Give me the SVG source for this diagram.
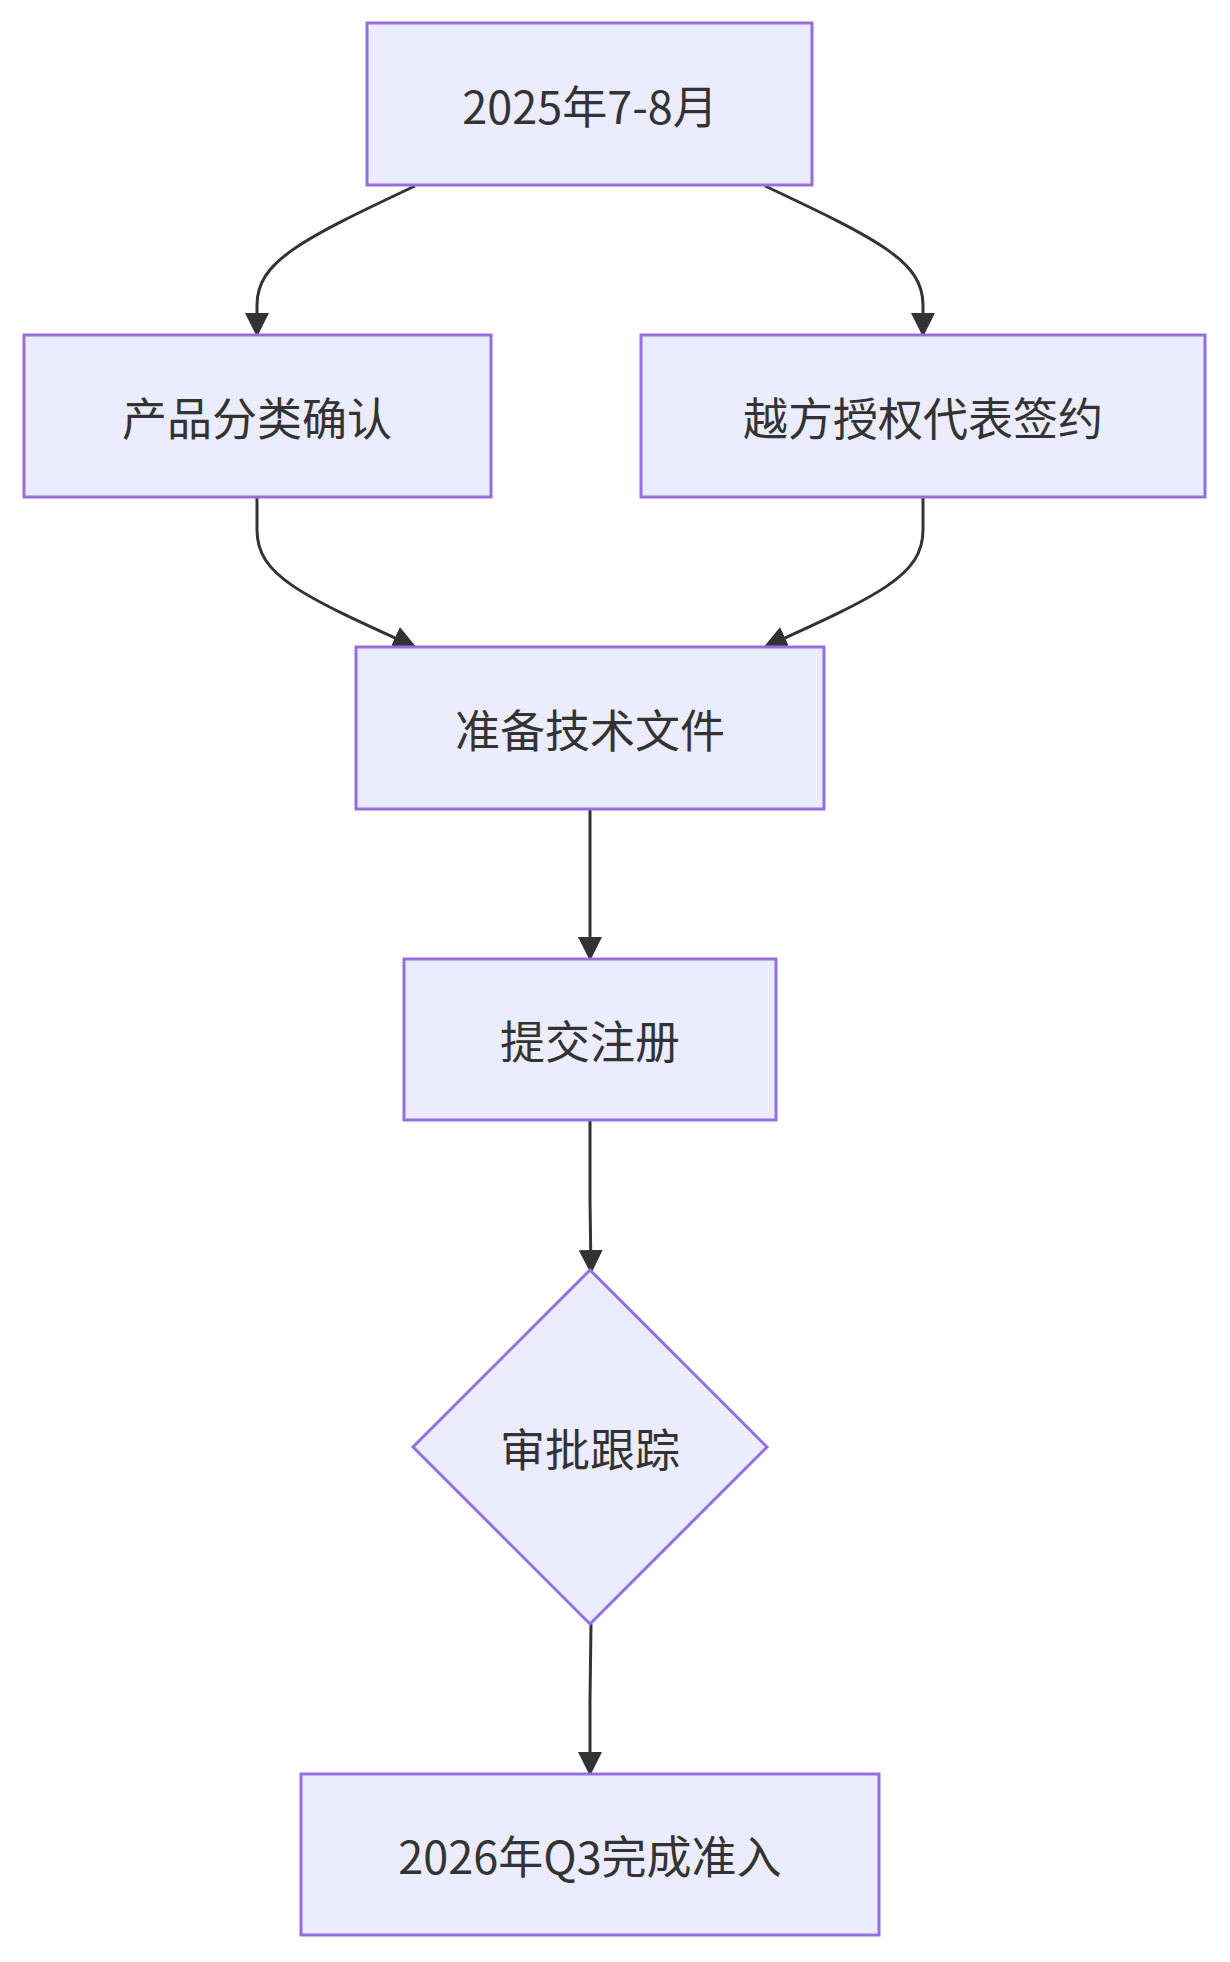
<svg xmlns="http://www.w3.org/2000/svg" width="1230" height="1962" viewBox="0 0 1230 1962">
<style>
.n{fill:#ECECFF;stroke:#9370DB;stroke-width:3}
.t{font-family:"Noto Sans CJK SC","Noto Sans",sans-serif;font-size:45px;fill:#333;text-anchor:middle;dominant-baseline:central}
.e{fill:none;stroke:#333;stroke-width:3}
</style>
<defs><marker id="a" markerUnits="userSpaceOnUse" markerWidth="24" markerHeight="24" viewBox="0 0 12 12" refX="11" refY="6" orient="auto"><path d="M0,0L12,6L0,12z" fill="#333"/></marker></defs>
<rect width="1230" height="1962" fill="#fff"/>
<g id="edges">
<path class="e" marker-end="url(#a)" d="M415,186 C300,240 257,262 257,305 L257,335"/>
<path class="e" marker-end="url(#a)" d="M765,186 C880,240 923,262 923,305 L923,335"/>
<path class="e" marker-end="url(#a)" d="M257,497 L257,530 C257,575 300,595 415,647"/>
<path class="e" marker-end="url(#a)" d="M923,497 L923,530 C923,575 880,595 765,647"/>
<path class="e" marker-end="url(#a)" d="M590,809 L590,959"/>
<path class="e" marker-end="url(#a)" d="M590,1120 L590,1200 L591,1272"/>
<path class="e" marker-end="url(#a)" d="M591,1624 L590,1700 L590,1774"/>
</g>
<g id="n1"><rect class="n" x="367" y="23" width="445" height="162"/><text class="t" x="590" y="104">2025年7-8月</text></g>
<g id="n2"><rect class="n" x="24" y="335" width="467" height="162"/><text class="t" x="257" y="416">产品分类确认</text></g>
<g id="n3"><rect class="n" x="641" y="335" width="564" height="162"/><text class="t" x="923" y="416">越方授权代表签约</text></g>
<g id="n4"><rect class="n" x="356" y="647" width="468" height="162"/><text class="t" x="590" y="728">准备技术文件</text></g>
<g id="n5"><rect class="n" x="404" y="959" width="372" height="161"/><text class="t" x="590" y="1039">提交注册</text></g>
<g id="n6"><polygon class="n" points="590,1270 767,1447 590,1624 413,1447"/><text class="t" x="590" y="1447">审批跟踪</text></g>
<g id="n7"><rect class="n" x="301" y="1774" width="578" height="161"/><text class="t" x="590" y="1854">2026年Q3完成准入</text></g>
</svg>
